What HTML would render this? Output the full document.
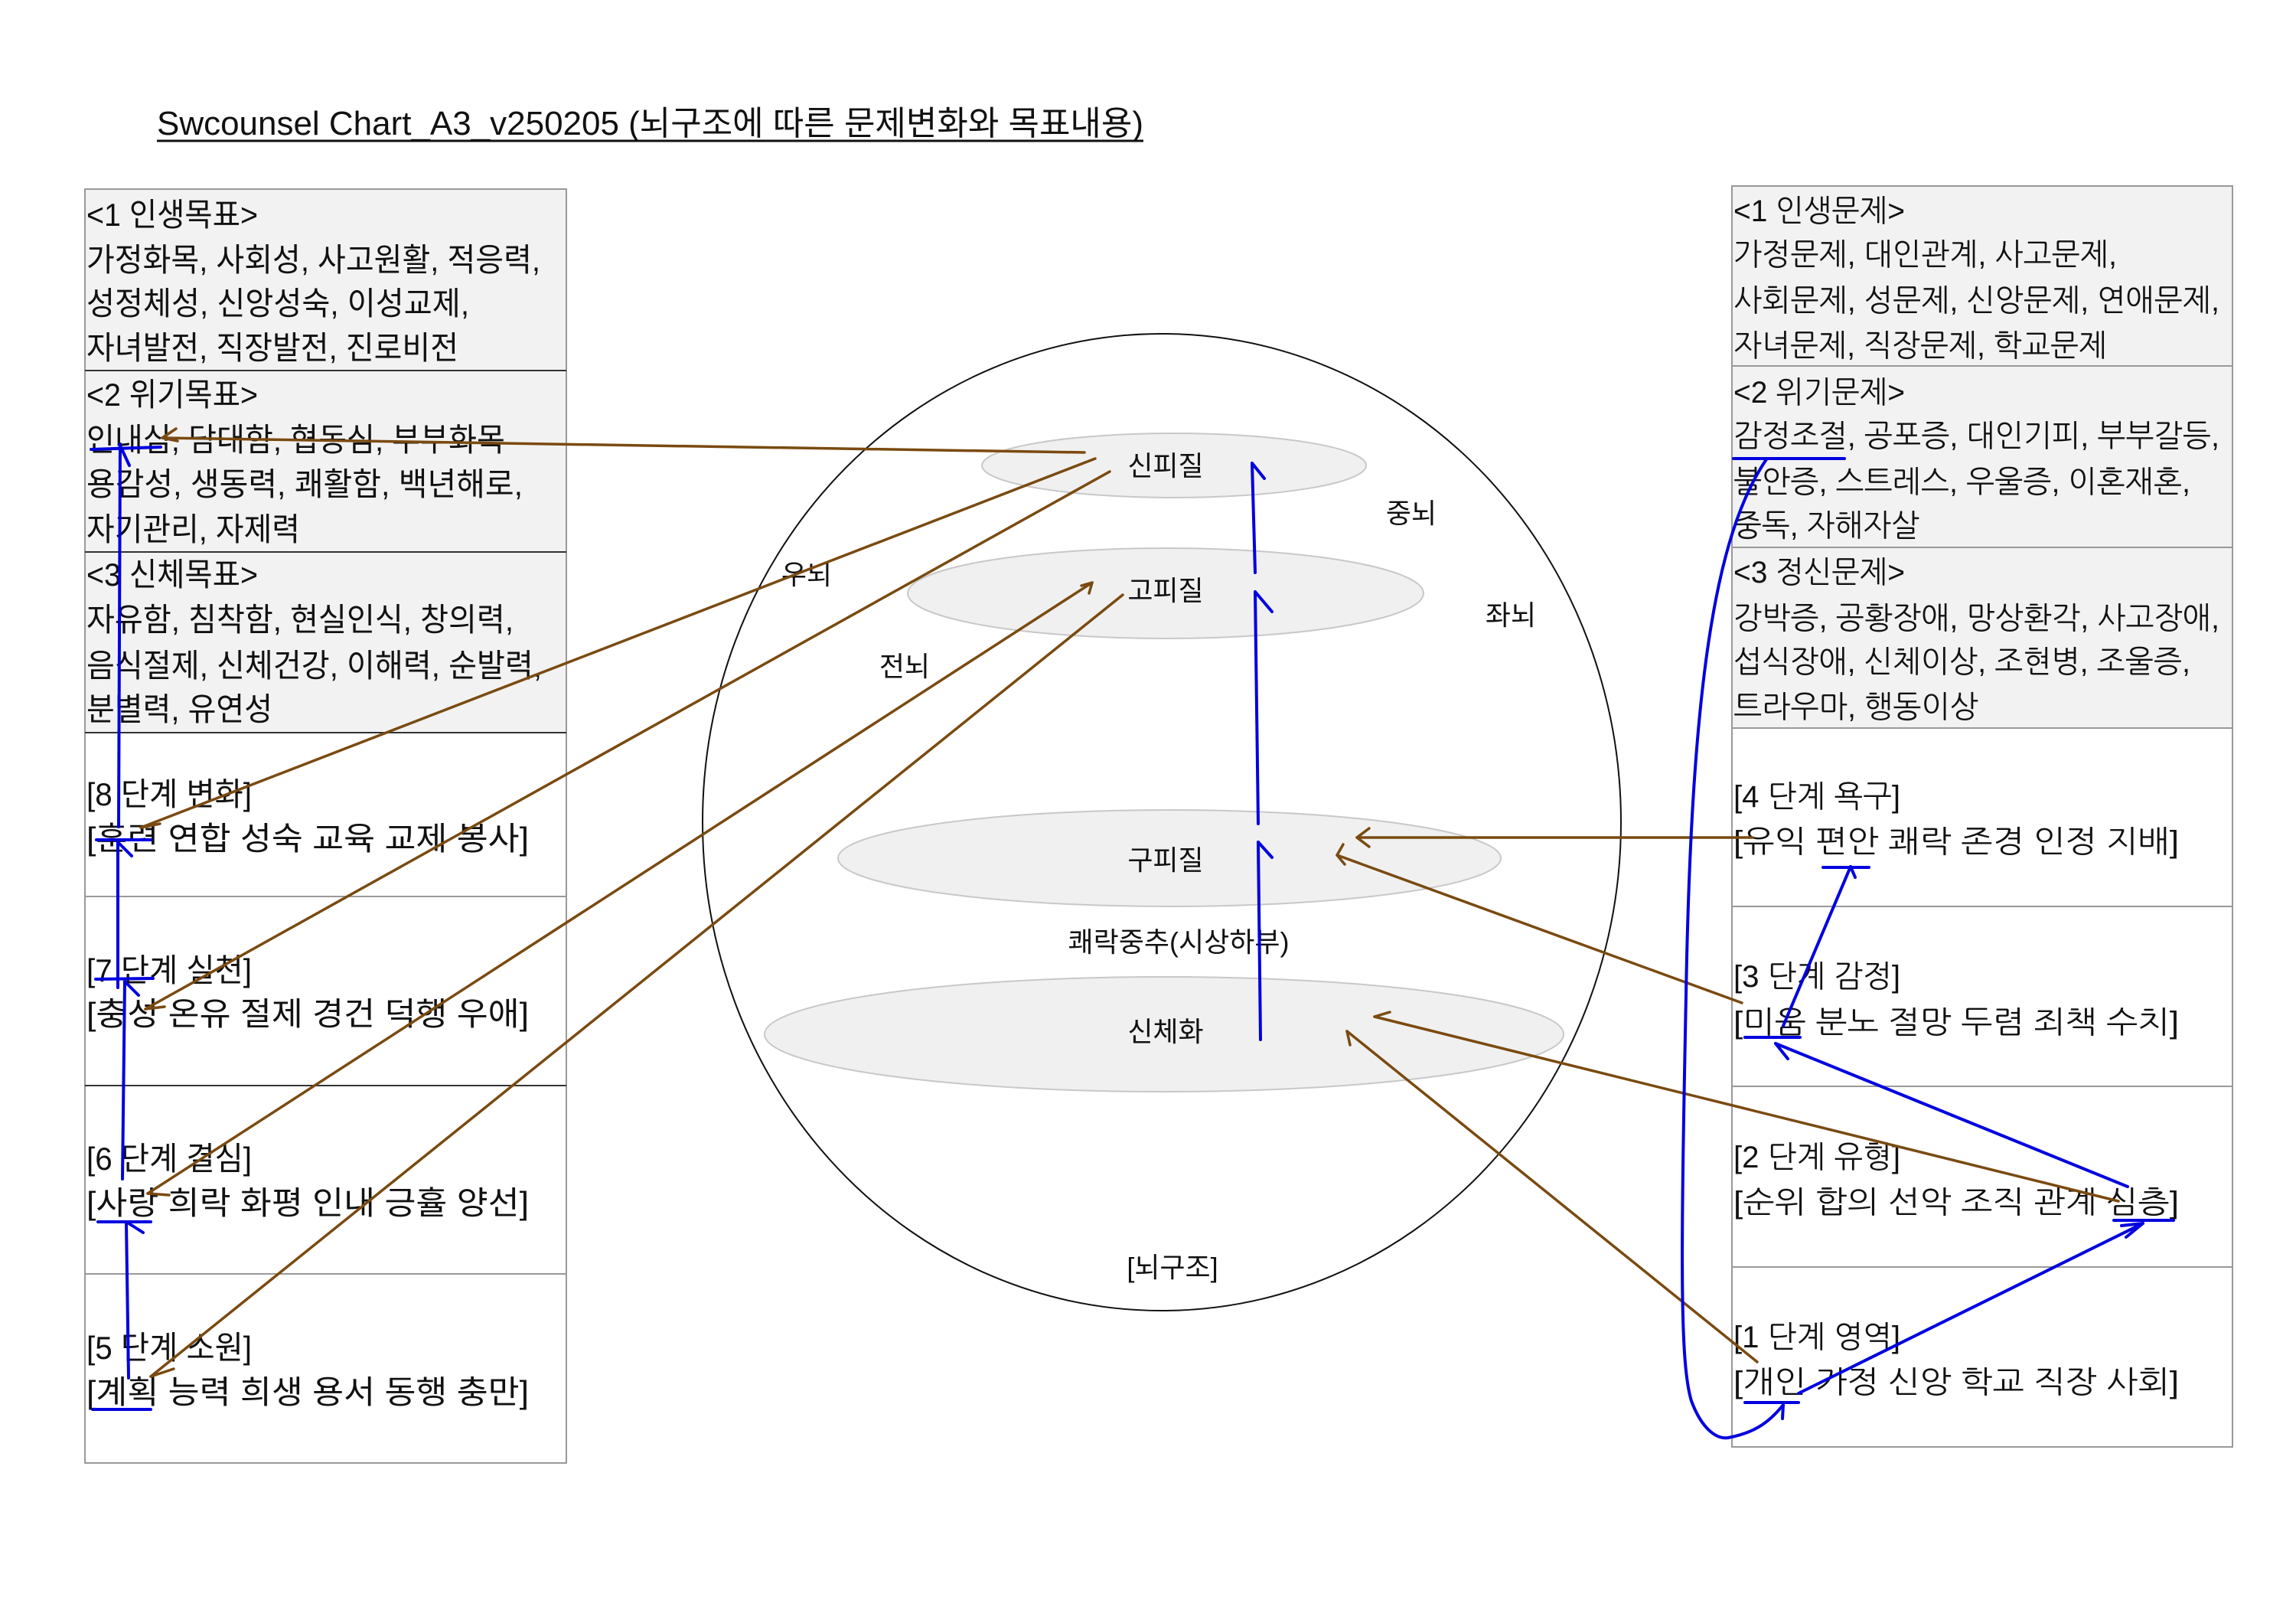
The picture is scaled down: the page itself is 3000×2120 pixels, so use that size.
<!DOCTYPE html>
<html><head><meta charset="utf-8"><style>
html,body{margin:0;padding:0;background:#fff;}
svg{display:block;}
text{font-family:"Liberation Sans","Noto Sans CJK KR",sans-serif;fill:#111;}
.r{font-family:"Liberation Sans","NanumGothic","Noto Sans CJK KR",sans-serif;}
</style></head><body>
<svg width="3000" height="2120" viewBox="0 0 3000 2120" xmlns="http://www.w3.org/2000/svg">
<!-- title -->
<text x="205" y="176" font-size="44" textLength="1289" lengthAdjust="spacingAndGlyphs">Swcounsel Chart_A3_v250205 (뇌구조에 따른 문제변화와 목표내용)</text>
<line x1="205" y1="184" x2="1494" y2="184" stroke="#111" stroke-width="3"/>

<!-- left box -->
<rect x="111" y="247" width="629" height="710" fill="#f2f2f2"/>
<rect x="111" y="247" width="629" height="1664" fill="none" stroke="#999" stroke-width="2"/>
<g stroke="#333" stroke-width="2">
<line x1="111" y1="484" x2="740" y2="484"/><line x1="111" y1="721" x2="740" y2="721"/>
<line x1="111" y1="957" x2="740" y2="957"/><line x1="111" y1="1171" x2="740" y2="1171" stroke="#999"/>
<line x1="111" y1="1418" x2="740" y2="1418"/><line x1="111" y1="1664" x2="740" y2="1664" stroke="#999"/>
</g>
<g font-size="42">
<text x="113" y="295" textLength="224" lengthAdjust="spacingAndGlyphs">&lt;1 인생목표&gt;</text>
<text x="113" y="354" textLength="593" lengthAdjust="spacingAndGlyphs">가정화목, 사회성, 사고원활, 적응력,</text>
<text x="113" y="411" textLength="500" lengthAdjust="spacingAndGlyphs">성정체성, 신앙성숙, 이성교제,</text>
<text x="113" y="469" textLength="486" lengthAdjust="spacingAndGlyphs">자녀발전, 직장발전, 진로비전</text>
<text x="113" y="530" textLength="224" lengthAdjust="spacingAndGlyphs">&lt;2 위기목표&gt;</text>
<text x="113" y="589" textLength="547" lengthAdjust="spacingAndGlyphs">인내심, 담대함, 협동심, 부부화목</text>
<text x="113" y="647" textLength="570" lengthAdjust="spacingAndGlyphs">용감성, 생동력, 쾌활함, 백년해로,</text>
<text x="113" y="706" textLength="279" lengthAdjust="spacingAndGlyphs">자기관리, 자제력</text>
<text x="113" y="765" textLength="224" lengthAdjust="spacingAndGlyphs">&lt;3 신체목표&gt;</text>
<text x="113" y="824" textLength="558" lengthAdjust="spacingAndGlyphs">자유함, 침착함, 현실인식, 창의력,</text>
<text x="113" y="884" textLength="595" lengthAdjust="spacingAndGlyphs">음식절제, 신체건강, 이해력, 순발력,</text>
<text x="113" y="941" textLength="243" lengthAdjust="spacingAndGlyphs">분별력, 유연성</text>
<text x="113" y="1052" textLength="216" lengthAdjust="spacingAndGlyphs">[8 단계 변화]</text>
<text x="113" y="1110" textLength="578" lengthAdjust="spacingAndGlyphs">[훈련 연합 성숙 교육 교제 봉사]</text>
<text x="113" y="1282" textLength="216" lengthAdjust="spacingAndGlyphs">[7 단계 실천]</text>
<text x="113" y="1339" textLength="578" lengthAdjust="spacingAndGlyphs">[충성 온유 절제 경건 덕행 우애]</text>
<text x="113" y="1528" textLength="216" lengthAdjust="spacingAndGlyphs">[6 단계 결심]</text>
<text x="113" y="1586" textLength="578" lengthAdjust="spacingAndGlyphs">[사랑 희락 화평 인내 긍휼 양선]</text>
<text x="113" y="1775" textLength="216" lengthAdjust="spacingAndGlyphs">[5 단계 소원]</text>
<text x="113" y="1833" textLength="578" lengthAdjust="spacingAndGlyphs">[계획 능력 희생 용서 동행 충만]</text>
</g>

<!-- right box -->
<rect x="2263" y="243" width="654" height="708" fill="#f2f2f2"/>
<rect x="2263" y="243" width="654" height="1647" fill="none" stroke="#999" stroke-width="2"/>
<g stroke="#999" stroke-width="2">
<line x1="2263" y1="478" x2="2917" y2="478"/><line x1="2263" y1="715" x2="2917" y2="715"/>
<line x1="2263" y1="951" x2="2917" y2="951"/><line x1="2263" y1="1184" x2="2917" y2="1184"/>
<line x1="2263" y1="1419" x2="2917" y2="1419"/><line x1="2263" y1="1655" x2="2917" y2="1655"/>
</g>
<g font-size="40">
<text class="r" x="2265" y="289" textLength="224" lengthAdjust="spacingAndGlyphs">&lt;1 인생문제&gt;</text>
<text class="r" x="2265" y="346" textLength="501" lengthAdjust="spacingAndGlyphs">가정문제, 대인관계, 사고문제,</text>
<text class="r" x="2265" y="406" textLength="635" lengthAdjust="spacingAndGlyphs">사회문제, 성문제, 신앙문제, 연애문제,</text>
<text class="r" x="2265" y="465" textLength="488" lengthAdjust="spacingAndGlyphs">자녀문제, 직장문제, 학교문제</text>
<text class="r" x="2265" y="526" textLength="224" lengthAdjust="spacingAndGlyphs">&lt;2 위기문제&gt;</text>
<text class="r" x="2265" y="583" textLength="635" lengthAdjust="spacingAndGlyphs">감정조절, 공포증, 대인기피, 부부갈등,</text>
<text class="r" x="2265" y="643" textLength="597" lengthAdjust="spacingAndGlyphs">불안증, 스트레스, 우울증, 이혼재혼,</text>
<text class="r" x="2265" y="700" textLength="243" lengthAdjust="spacingAndGlyphs">중독, 자해자살</text>
<text class="r" x="2265" y="761" textLength="224" lengthAdjust="spacingAndGlyphs">&lt;3 정신문제&gt;</text>
<text class="r" x="2265" y="821" textLength="635" lengthAdjust="spacingAndGlyphs">강박증, 공황장애, 망상환각, 사고장애,</text>
<text class="r" x="2265" y="878" textLength="597" lengthAdjust="spacingAndGlyphs">섭식장애, 신체이상, 조현병, 조울증,</text>
<text class="r" x="2265" y="937" textLength="320" lengthAdjust="spacingAndGlyphs">트라우마, 행동이상</text>
<text class="r" x="2265" y="1054" textLength="218" lengthAdjust="spacingAndGlyphs">[4 단계 욕구]</text>
<text class="r" x="2265" y="1113" textLength="582" lengthAdjust="spacingAndGlyphs">[유익 편안 쾌락 존경 인정 지배]</text>
<text class="r" x="2265" y="1289" textLength="218" lengthAdjust="spacingAndGlyphs">[3 단계 감정]</text>
<text class="r" x="2265" y="1349" textLength="582" lengthAdjust="spacingAndGlyphs">[미움 분노 절망 두렴 죄책 수치]</text>
<text class="r" x="2265" y="1525" textLength="218" lengthAdjust="spacingAndGlyphs">[2 단계 유형]</text>
<text class="r" x="2265" y="1584" textLength="582" lengthAdjust="spacingAndGlyphs">[순위 합의 선악 조직 관계 심층]</text>
<text class="r" x="2265" y="1760" textLength="218" lengthAdjust="spacingAndGlyphs">[1 단계 영역]</text>
<text class="r" x="2265" y="1819" textLength="582" lengthAdjust="spacingAndGlyphs">[개인 가정 신앙 학교 직장 사회]</text>
</g>

<!-- brain -->
<ellipse cx="1518" cy="1074" rx="600" ry="638" fill="none" stroke="#111" stroke-width="2"/>
<g fill="#f0f0f0" stroke="#c8c8c8" stroke-width="2">
<ellipse cx="1534" cy="608" rx="251" ry="42"/>
<ellipse cx="1523" cy="775" rx="337" ry="59"/>
<ellipse cx="1528" cy="1121" rx="433" ry="63"/>
<ellipse cx="1521" cy="1351" rx="522" ry="75"/>
</g>
<g font-size="36" text-anchor="middle">
<text x="1523" y="621">신피질</text>
<text x="1523" y="784">고피질</text>
<text x="1523" y="1136">구피질</text>
<text x="1523" y="1360">신체화</text>
<text x="1540" y="1243">쾌락중추(시상하부)</text>
<text x="1844" y="683">중뇌</text>
<text x="1974" y="816">좌뇌</text>
<text x="1054" y="763">우뇌</text>
<text x="1182" y="883">전뇌</text>
<text x="1532" y="1668">[뇌구조]</text>
</g>

<!-- brown connectors -->
<g stroke="#7a4a10" stroke-width="3.5" fill="none" stroke-linecap="round">
<line x1="1417" y1="591" x2="212" y2="572"/><path d="M212,572 l18,-12 M212,572 l20,4"/>
<line x1="1431" y1="599" x2="184" y2="1081"/><path d="M184,1081 l25,-5"/>
<line x1="1450" y1="616" x2="190" y2="1318"/><path d="M190,1318 l25,-3"/>
<line x1="1427" y1="761" x2="193" y2="1559"/><path d="M193,1559 l28,2"/><path d="M1427,761 l-14,4 M1427,761 l-4,14"/>
<line x1="1467" y1="777" x2="197" y2="1798"/><path d="M197,1798 l30,-10"/>
<line x1="2290" y1="1094" x2="1773" y2="1094"/><path d="M1773,1094 l16,-12 M1773,1094 l16,12"/>
<line x1="2276" y1="1310" x2="1747" y2="1117"/><path d="M1747,1117 l8,-14 M1747,1117 l10,12"/>
<line x1="2768" y1="1569" x2="1796" y2="1328"/><path d="M1796,1328 l20,-6"/>
<line x1="2296" y1="1779" x2="1760" y2="1347"/><path d="M1760,1347 l4,18"/>
</g>

<!-- blue connectors -->
<g stroke="#0000e0" stroke-width="4" fill="none" stroke-linecap="round">
<line x1="119" y1="587" x2="210" y2="584"/>
<line x1="155" y1="1080" x2="157" y2="580"/><path d="M157,582 l12,26"/>
<line x1="126" y1="1097" x2="197" y2="1097"/>
<line x1="154" y1="1290" x2="154" y2="1100"/><path d="M154,1100 l18,18"/>
<line x1="125" y1="1279" x2="200" y2="1278"/>
<line x1="160" y1="1540" x2="163" y2="1282"/><path d="M163,1282 l18,18"/>
<line x1="128" y1="1596" x2="197" y2="1596"/>
<line x1="168" y1="1800" x2="165" y2="1596"/><path d="M165,1596 l22,14"/>
<line x1="121" y1="1841" x2="197" y2="1841"/>
<line x1="1647" y1="1358" x2="1644" y2="1100"/><path d="M1644,1100 l18,20"/>
<line x1="1644" y1="1076" x2="1640" y2="773"/><path d="M1640,773 l22,26"/>
<line x1="1640" y1="748" x2="1636" y2="605"/><path d="M1636,605 l16,20"/>
<line x1="2265" y1="599" x2="2410" y2="599"/>
<path d="M2308,600 C2240,700 2210,900 2203,1300 C2196,1650 2195,1780 2210,1830 C2225,1870 2245,1880 2258,1878 C2290,1872 2310,1860 2330,1835"/>
<line x1="2280" y1="1832" x2="2350" y2="1832"/><path d="M2330,1835 l-1,18"/>
<line x1="2350" y1="1820" x2="2800" y2="1598"/><path d="M2800,1598 l-22,18 M2800,1598 l-28,3"/>
<line x1="2762" y1="1594" x2="2840" y2="1594"/>
<line x1="2780" y1="1550" x2="2320" y2="1363"/><path d="M2320,1363 l16,20"/>
<line x1="2280" y1="1355" x2="2352" y2="1355"/>
<line x1="2330" y1="1340" x2="2418" y2="1132"/><path d="M2418,1132 l6,14"/>
<line x1="2382" y1="1133" x2="2442" y2="1133"/>
</g>
</svg>
</body></html>
